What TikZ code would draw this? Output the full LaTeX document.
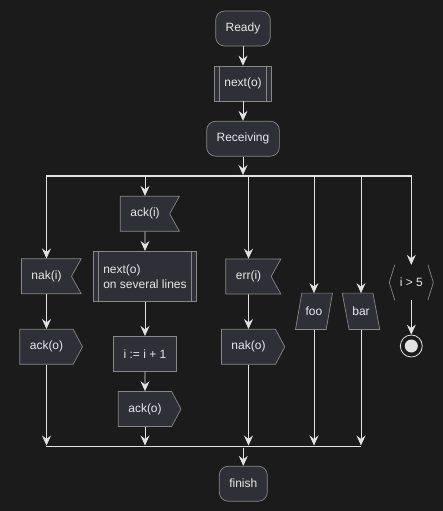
\documentclass[tikz,border=0pt]{standalone}
\usepackage{fontspec}
\setmainfont{Liberation Sans}
\usetikzlibrary{shapes.symbols,arrows.meta,backgrounds}
\definecolor{ActBackground}{RGB}{27,27,27}
\definecolor{ActFill}{RGB}{47,47,55}
\definecolor{ActBorder}{RGB}{136,136,136}
\definecolor{ActLine}{RGB}{226,226,226}
\definecolor{ActText}{RGB}{232,232,232}

\begin{document}
\begin{tikzpicture}[x=1pt,y=-1pt,font=\fontsize{12}{15}\selectfont,
   act/.style={draw=ActBorder,fill=ActFill,text=ActText,line width=0.7pt,inner xsep=10pt,inner ysep=0pt,minimum height=#1},
   act/.default=35pt,
   rnd/.style={act,rectangle,rounded corners=9pt},
   sub/.style={act=#1,rectangle},
   sub/.default=35pt,
   recv/.style={act,signal,signal to=nowhere,signal from=east,signal pointer angle=122},
   send/.style={act,signal,signal to=east,signal pointer angle=124},
   io/.style={rectangle,text=ActText,inner sep=0pt,minimum width=30.3pt,minimum height=36pt},
   flow/.style={draw=ActLine,line width=0.8pt,-{Stealth[length=10pt,width=9pt,inset=3.5pt]}},
   forkbar/.style={rectangle,fill=ActLine,inner sep=0pt,minimum height=1.6pt}]
\useasboundingbox (0,0) rectangle (443,511);
\node[rnd] (ready) at (243,28.5) {Ready};
\node[sub] (next) at (243,83.5) {next(o)};
\node[rnd] (receiving) at (243,138.7) {Receiving};
\node[forkbar,minimum width=365.7pt] (fork) at (228.85,176) {};
% branches
\node[recv] (naki) at (46.5,276.3) {nak(i)};
\node[send] (acko1) at (46.5,346.8) {ack(o)};
\node[recv] (acki) at (145,213.8) {ack(i)};
\node[sub=50pt,align=left] (nextl) at (145,276.3) {next(o)\\on several lines};
\node[sub] (incr) at (145,353.8) {i := i + 1};
\node[send] (acko2) at (145,409) {ack(o)};
\node[recv] (erri) at (248.5,276.5) {err(i)};
\node[send] (nako) at (248.5,346.8) {nak(o)};
\node[io] (foo) at (314,311.3) {foo};
\node[io] (bar) at (361,311.3) {bar};
\node[text=ActText,minimum width=32.7pt,minimum height=35pt,inner sep=0pt] (gt) at (411.3,282.5) {i > 5};
\node[circle,draw=ActLine,line width=0.8pt,minimum size=22pt,inner sep=0pt] (stop) at (411.3,346) {};
\node[forkbar,minimum width=315.3pt] (join) at (203.65,446.5) {};
\node[rnd] (finish) at (243.3,483.7) {finish};
\fill[ActLine] (stop.center) circle (6.5pt);
\begin{scope}[on background layer]
\fill[ActBackground] (0,0) rectangle (443,511);
\foreach \n/\s in {foo/3.15,bar/-3.4}
   \filldraw[fill=ActFill,draw=ActBorder,line width=0.7pt] ([xshift=\s pt]\n.north west) -- ([xshift=\s pt]\n.north east)
      -- ([xshift=-\s pt]\n.south east) -- ([xshift=-\s pt]\n.south west) -- cycle;
\end{scope}
\foreach \n in {next,nextl} {
   \draw[ActBorder,line width=0.7pt] ([xshift=5.4pt]\n.north west) -- ([xshift=5.4pt]\n.south west);
   \draw[ActBorder,line width=0.7pt] ([xshift=-5.4pt]\n.north east) -- ([xshift=-5.4pt]\n.south east);
}
\draw[ActBorder,line width=0.7pt] (gt.north west) -- ([xshift=-5.5pt]gt.west) -- (gt.south west);
\draw[ActBorder,line width=0.7pt] (gt.north east) -- ([xshift=5.5pt]gt.east) -- (gt.south east);
\foreach \a/\b in {ready/next,next/receiving,naki/acko1,acki/nextl,nextl/incr,incr/acko2,erri/nako,gt/stop}
   \draw[flow] (\a) -- (\b);
\draw[flow] (receiving.south) -- (receiving.south |- fork.north);
\foreach \n in {naki,acki,erri,foo,bar,gt}
   \draw[flow] (fork.south -| \n.north) -- (\n.north);
\foreach \n in {acko1,acko2,nako,foo,bar}
   \draw[flow] (\n.south) -- (\n.south |- join.north);
\draw[flow] (join.south -| finish.north) -- (finish.north);
\end{tikzpicture}
\end{document}
